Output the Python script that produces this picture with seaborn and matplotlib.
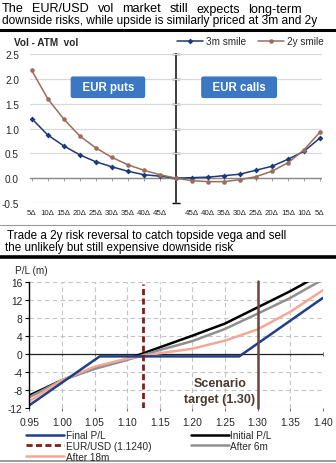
import numpy as np
import pandas as pd
import matplotlib
matplotlib.use("Agg")
import matplotlib.pyplot as plt
import seaborn as sns
from matplotlib.lines import Line2D

# ---------------- data ----------------
delta_labels = ["5Δ", "10Δ", "15Δ", "20Δ", "25Δ", "30Δ", "35Δ", "40Δ", "45Δ", "",
                "45Δ", "40Δ", "35Δ", "30Δ", "25Δ", "20Δ", "15Δ", "10Δ", "5Δ"]
smile_3m = [1.20, 0.87, 0.65, 0.47, 0.33, 0.23, 0.14, 0.07, 0.04, 0.00,
            0.01, 0.02, 0.05, 0.08, 0.16, 0.24, 0.38, 0.54, 0.81]
smile_2y = [2.17, 1.60, 1.19, 0.85, 0.61, 0.42, 0.27, 0.16, 0.07, 0.00,
            -0.05, -0.07, -0.07, -0.03, 0.03, 0.14, 0.31, 0.57, 0.93]

spot = [0.95, 1.00, 1.05, 1.10, 1.15, 1.20, 1.25, 1.30, 1.35, 1.40]
initial_pl = [-9.2, -5.8, -3.1, -1.1, 1.5, 4.1, 6.8, 10.4, 14.0, 18.0]
after_6m = [-9.6, -5.8, -3.3, -1.3, 0.9, 2.9, 5.6, 9.0, 12.5, 16.6]
after_18m = [-10.5, -5.8, -2.8, -1.0, 0.2, 1.2, 3.0, 5.5, 9.4, 14.2]
final_spot = [0.95, 1.058, 1.272, 1.40]
final_pl = [-11.4, -0.5, -0.5, 12.5]
eurusd_spot = 1.1240
scenario_target = 1.30

x_ticks = [0.95, 1.00, 1.05, 1.10, 1.15, 1.20, 1.25, 1.30, 1.35, 1.40]
y_ticks_top = [-0.5, 0.0, 0.5, 1.0, 1.5, 2.0, 2.5]
y_ticks_bot = [-12, -8, -4, 0, 4, 8, 12, 16]

# ---------------- style ----------------
sns.set_theme(style="white")
plt.rcParams["font.family"] = ["Liberation Sans", "DejaVu Sans"]

W, H = 336, 464
fig = plt.figure(figsize=(W / 100, H / 100), dpi=100)
renderer = fig.canvas.get_renderer()

def fx(px):
    return px / W

def fy(py):
    return 1 - py / H

NAVY3 = "#1c3a78"
BROWN2 = "#9a6e5c"
NAVY = "#1f3f86"
GRAY = "#8f8f8f"
SALMON = "#f2a897"
DRED = "#7c1e1a"
SCEN = "#6b4638"


def justified(text, x0, x1, y, fs):
    words = text.split()
    objs = [fig.text(0, fy(y), w, fontsize=fs, va="center", ha="left", color="black")
            for w in words]
    widths = [o.get_window_extent(renderer).width for o in objs]
    gap = (x1 - x0 - sum(widths)) / (len(words) - 1)
    x = x0
    for o, w in zip(objs, widths):
        o.set_x(fx(x))
        x += w + gap


# titles and separator lines
justified("The EUR/USD vol market still expects long-term", 2, 302, 9.5, 9.1)
fig.text(fx(2), fy(21), "downside risks, while upside is similarly priced at 3m and 2y",
         fontsize=8.6, va="center", ha="left", color="black")
fig.add_artist(Line2D([0, 1], [fy(31), fy(31)], color="black", lw=2.2))
fig.add_artist(Line2D([0, 1], [fy(226), fy(226)], color="#9a9a9a", lw=0.8))
fig.text(fx(7), fy(236), "Trade a 2y risk reversal to catch topside vega and sell",
         fontsize=8.4, va="center", ha="left", color="black")
fig.text(fx(5), fy(248.5), "the unlikely but still expensive downside risk",
         fontsize=8.4, va="center", ha="left", color="black")
fig.add_artist(Line2D([0, 1], [fy(258), fy(258)], color="black", lw=2.6))
fig.add_artist(Line2D([0, 1], [fy(461.5), fy(461.5)], color="#8a8a8a", lw=1.2))

# ---------------- top chart ----------------
ax1 = fig.add_axes([fx(30.1), fy(204), fx(321.6) - fx(30.1), fy(55) - fy(204)])
pos = np.arange(len(delta_labels))
df_s = pd.DataFrame({"pos": np.concatenate([pos, pos]),
                     "val": smile_3m + smile_2y,
                     "series": ["3m smile"] * len(pos) + ["2y smile"] * len(pos)})
sns.lineplot(data=df_s[df_s.series == "3m smile"], x="pos", y="val", ax=ax1,
             color=NAVY3, lw=1.1, marker="D", markersize=3, markeredgewidth=0,
             label="3m smile", legend=False)
sns.lineplot(data=df_s[df_s.series == "2y smile"], x="pos", y="val", ax=ax1,
             color=BROWN2, lw=1.1, marker="o", markersize=3.3, markeredgewidth=0,
             label="2y smile", legend=False)
ax1.set_xlim(-0.1, len(pos) - 0.9)
ax1.set_ylim(-0.5, 2.5)
ax1.set_yticks(y_ticks_top)
ax1.set_yticklabels([f"{v:.1f}" for v in y_ticks_top], fontsize=7.2)
ax1.set_xticks(pos)
ax1.set_xticklabels(delta_labels, fontsize=5.7)
ax1.tick_params(axis="x", length=0, pad=4)
ax1.tick_params(axis="y", length=0, pad=8)
for s in ax1.spines.values():
    s.set_visible(False)
ax1.yaxis.grid(True, color="#d9d9d9", lw=0.9)
ax1.set_axisbelow(True)
ax1.axhline(0, color="#8a8a8a", lw=1.0, zorder=1)
ax1.set_xlabel("")
ax1.set_ylabel("")
# center axis
sec = ax1.secondary_yaxis(0.5)
sec.set_yticks(y_ticks_top)
sec.set_yticklabels([])
sec.tick_params(direction="inout", length=6, width=1.0, color="black")
sec.spines["left"].set_linewidth(1.3)
sec.spines["left"].set_color("black")
# zero-line ticks
secx = ax1.secondary_xaxis(1 / 6)
secx.set_xticks(pos)
secx.set_xticklabels([])
secx.tick_params(direction="out", length=2, width=0.6, color="#8a8a8a")
secx.spines["bottom"].set_visible(False)

ax1.text(4.76, 1.83, "  EUR puts  ", color="white", fontsize=8.3, fontweight="bold",
         ha="center", va="center",
         bbox=dict(boxstyle="round,pad=0.42,rounding_size=0.2", fc="#3b77c2", ec="none"))
ax1.text(12.95, 1.83, "  EUR calls  ", color="white", fontsize=8.3, fontweight="bold",
         ha="center", va="center",
         bbox=dict(boxstyle="round,pad=0.42,rounding_size=0.2", fc="#3b77c2", ec="none"))

fig.text(fx(14), fy(43.5), "Vol - ATM  vol", fontsize=7.2, fontweight="bold", va="center")
h1, l1 = ax1.get_legend_handles_labels()
fig.legend(h1, l1, loc="center right", bbox_to_anchor=(fx(324), fy(42)), ncol=2,
           frameon=False, fontsize=7.2, handlelength=2.6, handletextpad=0.3,
           columnspacing=1.2, borderpad=0, borderaxespad=0)

# ---------------- bottom chart ----------------
ax2 = fig.add_axes([fx(29.3), fy(409), fx(322.7) - fx(29.3), fy(283.3) - fy(409)])
df_p = pd.DataFrame({"spot": spot, "Initial P/L": initial_pl,
                     "After 6m": after_6m, "After 18m": after_18m})
df_f = pd.DataFrame({"spot": final_spot, "Final P/L": final_pl})
sns.lineplot(data=df_p, x="spot", y="Initial P/L", ax=ax2, color="black", lw=1.8,
             label="Initial P/L", legend=False)
sns.lineplot(data=df_p, x="spot", y="After 6m", ax=ax2, color=GRAY, lw=1.8,
             label="After 6m", legend=False)
sns.lineplot(data=df_p, x="spot", y="After 18m", ax=ax2, color=SALMON, lw=1.8,
             label="After 18m", legend=False)
sns.lineplot(data=df_f, x="spot", y="Final P/L", ax=ax2, color=NAVY, lw=1.8,
             label="Final P/L", legend=False)
ax2.axvline(eurusd_spot, ymin=0, ymax=0.985, color=DRED, lw=2.0, ls=(0, (2.2, 1.2)),
            label="EUR/USD (1.1240)")
ax2.axvline(scenario_target, ymin=0, ymax=1.01, color=SCEN, lw=1.8, clip_on=False)
ax2.axhline(0, color="#222222", lw=0.9, zorder=1.5)
ax2.set_xlim(0.95, 1.40)
ax2.set_ylim(-12, 16)
ax2.set_xticks(x_ticks)
ax2.set_xticklabels([f"{v:.2f}" for v in x_ticks], fontsize=7.4)
ax2.set_yticks(y_ticks_bot)
ax2.set_yticklabels([str(v) for v in y_ticks_bot], fontsize=7.4)
ax2.grid(True, color="#c4c4c4", lw=0.8, ls=(0, (4, 3)))
ax2.set_axisbelow(True)
for k in ["top", "right", "bottom"]:
    ax2.spines[k].set_visible(False)
ax2.spines["left"].set_color("black")
ax2.spines["left"].set_linewidth(1.0)
ax2.tick_params(axis="y", left=True, length=3, width=0.8, color="black", pad=2)
ax2.tick_params(axis="x", bottom=True, length=2.5, width=0.8, color="#777777", pad=4)
ax2.set_xlabel("")
ax2.set_ylabel("")
secx2 = ax2.secondary_xaxis(12 / 28)
secx2.set_xticks(x_ticks)
secx2.set_xticklabels([])
secx2.tick_params(direction="inout", length=3, width=0.6, color="#555555")
secx2.spines["bottom"].set_visible(False)

ax2.text(1.2425, -6.5, "Scenario", fontsize=9, fontweight="bold", color="#4a3a32",
         ha="center", va="center")
ax2.text(1.2425, -10.1, "target (1.30)", fontsize=9, fontweight="bold", color="#4a3a32",
         ha="center", va="center")
fig.text(fx(15), fy(271), "P/L (m)", fontsize=7.2, va="center")

h2, l2 = ax2.get_legend_handles_labels()
hd = dict(zip(l2, h2))
leg_kw = dict(frameon=False, fontsize=7.2, handlelength=3.8, handletextpad=0.15,
              labelspacing=0.08, borderpad=0, borderaxespad=0)
fig.legend([hd["Final P/L"], hd["EUR/USD (1.1240)"], hd["After 18m"]],
           ["Final P/L", "EUR/USD (1.1240)", "After 18m"],
           loc="upper left", bbox_to_anchor=(fx(26), fy(431)), **leg_kw)
fig.legend([hd["Initial P/L"], hd["After 6m"]], ["Initial P/L", "After 6m"],
           loc="upper left", bbox_to_anchor=(fx(191), fy(431)), **leg_kw)

fig.savefig("out.png", dpi=100)
